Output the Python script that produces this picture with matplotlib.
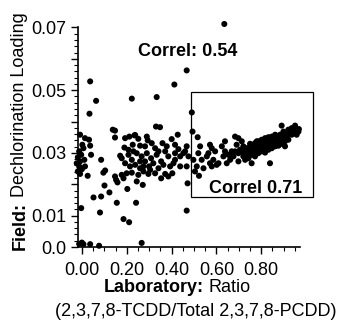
import matplotlib
matplotlib.use("Agg")
import matplotlib.pyplot as plt
from matplotlib.ticker import FixedLocator, FixedFormatter, MultipleLocator
from matplotlib.patches import Rectangle

plt.rcParams['font.family'] = ['Liberation Sans', 'DejaVu Sans']

# Laboratory ratio (x) vs field dechlorination loading (y)
lab_ratio = [
    # near zero cluster
    -0.009, 0.013, 0.031, 0.001, 0.006, -0.013, -0.004, -0.019, -0.009, -0.024,
    -0.013, -0.001, -0.019, -0.009, 0.025, 0.040, 0.036, 0.010, 0.013, -0.004,
    # isolated points, left half
    0.036, 0.0625, 0.033, 0.222, 0.333, 0.412, 0.137, 0.147, 0.330, 0.348,
    0.427, 0.237, 0.085, 0.103, 0.095, 0.100, 0.051, 0.085, 0.122, 0.080,
    0.155, 0.185, 0.210, 0.202, 0.241, 0.271, 0.152, 0.158,
    -0.001, -0.013, 0.006, 0.036, 0.076, 0.266,
    # central cluster
    0.147, 0.192, 0.211, 0.234, 0.251, 0.289, 0.293, 0.189, 0.226, 0.259,
    0.281, 0.311, 0.326, 0.359, 0.371, 0.400, 0.415, 0.430, 0.170, 0.177,
    0.207, 0.222, 0.244, 0.266, 0.289, 0.308, 0.333, 0.353, 0.385, 0.408,
    0.452, 0.192, 0.214, 0.237, 0.259, 0.281, 0.299, 0.318, 0.341, 0.363,
    0.393, 0.415, 0.199, 0.222, 0.251, 0.274, 0.296, 0.326, 0.353, 0.371,
    0.385, 0.403, 0.147, 0.177, 0.244, 0.185, 0.304, 0.274, 0.259, 0.229,
    0.207, 0.341, 0.378, 0.415, 0.438, 0.438,
    # right half
    0.635, 0.467, 0.490, 0.493, 0.516, 0.467, 0.460, 0.475, 0.467, 0.471,
    0.467, 0.497, 0.527, 0.519, 0.534, 0.512, 0.542, 0.522, 0.504, 0.571,
    0.579, 0.564, 0.594, 0.557, 0.586, 0.609, 0.571, 0.601, 0.579, 0.638,
    0.624, 0.638, 0.653, 0.631, 0.668, 0.661, 0.646, 0.676, 0.683, 0.698,
    0.713, 0.690, 0.720, 0.705, 0.728, 0.743, 0.757, 0.772, 0.787, 0.802,
    0.817, 0.832, 0.847, 0.862, 0.891, 0.936, 0.951, 0.966, 0.936, 0.914,
    0.906, 0.839, 0.757, 0.728, 0.698,
    # dense band
    0.735, 0.746, 0.754, 0.765, 0.772, 0.780, 0.790, 0.799, 0.805, 0.814,
    0.824, 0.832, 0.839, 0.850, 0.859, 0.865, 0.874, 0.884, 0.891, 0.899,
    0.906, 0.914, 0.921, 0.929, 0.943, 0.958, 0.951, 0.968, 0.757, 0.772,
    0.787, 0.802, 0.817, 0.832, 0.847, 0.862, 0.877, 0.891, 0.906, 0.921,
    0.735, 0.750, 0.765, 0.780, 0.794, 0.809, 0.824, 0.839, 0.854, 0.869,
    0.884, 0.899, 0.921, 0.713, 0.720, 0.743, 0.698, 0.683, 0.668,
]

field_loading = [
    0.0358, 0.0347, 0.0342, 0.0326, 0.0315, 0.0305, 0.0294, 0.0286, 0.0273, 0.0267,
    0.0257, 0.0248, 0.0241, 0.0233, 0.0227, 0.0294, 0.0323, 0.0278, 0.0257, 0.0124,
    0.0528, 0.0466, 0.0425, 0.0473, 0.0478, 0.0518, 0.0374, 0.0371, 0.0384, 0.0382,
    0.0358, 0.0357, 0.0278, 0.0244, 0.0237, 0.0196, 0.0158, 0.0161, 0.0174, 0.0110,
    0.0141, 0.0089, 0.0079, 0.0185, 0.0141, 0.0198, 0.0214, 0.0206,
    0.0014, 0.0010, 0.0009, 0.0009, 0.0004, 0.0013,
    0.0349, 0.0347, 0.0352, 0.0356, 0.0345, 0.0352, 0.0340, 0.0317, 0.0326, 0.0323,
    0.0321, 0.0331, 0.0315, 0.0331, 0.0305, 0.0344, 0.0326, 0.0312, 0.0291, 0.0283,
    0.0294, 0.0278, 0.0299, 0.0289, 0.0299, 0.0283, 0.0294, 0.0273, 0.0289, 0.0267,
    0.0299, 0.0267, 0.0257, 0.0262, 0.0251, 0.0273, 0.0257, 0.0267, 0.0251, 0.0262,
    0.0257, 0.0278, 0.0235, 0.0237, 0.0230, 0.0241, 0.0233, 0.0235, 0.0219, 0.0233,
    0.0225, 0.0235, 0.0225, 0.0230, 0.0209, 0.0219, 0.0246, 0.0257, 0.0273, 0.0305,
    0.0310, 0.0305, 0.0321, 0.0299, 0.0289, 0.0257,
    0.0711, 0.0563, 0.0429, 0.0368, 0.0350, 0.0321, 0.0305, 0.0289, 0.0257, 0.0203,
    0.0116, 0.0278, 0.0321, 0.0299, 0.0278, 0.0257, 0.0251, 0.0227, 0.0241, 0.0326,
    0.0315, 0.0299, 0.0305, 0.0289, 0.0278, 0.0267, 0.0267, 0.0262, 0.0257, 0.0337,
    0.0321, 0.0305, 0.0294, 0.0289, 0.0305, 0.0278, 0.0267, 0.0289, 0.0352, 0.0347,
    0.0337, 0.0326, 0.0321, 0.0310, 0.0305, 0.0315, 0.0323, 0.0331, 0.0337, 0.0342,
    0.0347, 0.0350, 0.0352, 0.0358, 0.0387, 0.0379, 0.0374, 0.0368, 0.0358, 0.0347,
    0.0321, 0.0267, 0.0267, 0.0278, 0.0273,
    0.0294, 0.0301, 0.0310, 0.0299, 0.0312, 0.0305, 0.0321, 0.0310, 0.0326, 0.0315,
    0.0331, 0.0321, 0.0337, 0.0326, 0.0342, 0.0331, 0.0347, 0.0337, 0.0352, 0.0342,
    0.0358, 0.0363, 0.0358, 0.0368, 0.0363, 0.0358, 0.0387, 0.0376, 0.0294, 0.0289,
    0.0299, 0.0305, 0.0301, 0.0310, 0.0315, 0.0321, 0.0323, 0.0329, 0.0337, 0.0342,
    0.0315, 0.0329, 0.0323, 0.0337, 0.0329, 0.0340, 0.0342, 0.0331, 0.0347, 0.0352,
    0.0358, 0.0368, 0.0374, 0.0305, 0.0289, 0.0283, 0.0299, 0.0305, 0.0289,
]

x_ticks = [0.0, 0.2, 0.4, 0.6, 0.8]
x_tick_labels = ['0.00', '0.20', '0.40', '0.60', '0.80']
y_ticks = [0.0, 0.01, 0.02, 0.03, 0.04, 0.05, 0.06, 0.07]
y_tick_labels = ['0.0', '0.01', '', '0.03', '', '0.05', '', '0.07']

corr_all = "Correl: 0.54"
corr_sub = "Correl 0.71"
box_x = [0.487, 1.031]
box_y = [0.016, 0.0495]

W, H = 339, 323
fig = plt.figure(figsize=(W / 100, H / 100), dpi=100)
ax = fig.add_axes([77.5 / W, 1 - 247 / H, (300 - 77.5) / W, (247 - 26.5) / H])

ax.scatter(lab_ratio, field_loading, s=19, c='black', edgecolors='none',
           clip_on=False, zorder=3)

ax.set_xlim(-0.0205, 0.973)
ax.set_ylim(0.0, 0.0703)

for side in ['top', 'right']:
    ax.spines[side].set_visible(False)
for side in ['left', 'bottom']:
    ax.spines[side].set_linewidth(1.2)

ax.xaxis.set_major_locator(FixedLocator(x_ticks))
ax.xaxis.set_major_formatter(FixedFormatter(x_tick_labels))
ax.xaxis.set_minor_locator(MultipleLocator(0.05))
ax.yaxis.set_major_locator(FixedLocator(y_ticks))
ax.yaxis.set_major_formatter(FixedFormatter(y_tick_labels))
ax.yaxis.set_minor_locator(MultipleLocator(0.002))

ax.tick_params(which='major', direction='out', length=5, width=1.0,
               labelsize=13, colors='black')
ax.tick_params(which='minor', direction='out', length=3, width=0.8)
ax.tick_params(axis='x', which='major', pad=6)
ax.tick_params(axis='y', which='major', pad=3)

ax.text(0.471, 0.0623, corr_all, ha='center', va='center', fontsize=13,
        fontweight='bold')
ax.text(0.777, 0.0188, corr_sub, ha='center', va='center', fontsize=13,
        fontweight='bold')
ax.add_patch(Rectangle((box_x[0], box_y[0]), box_x[1] - box_x[0], box_y[1] - box_y[0],
                       fill=False, edgecolor='black', linewidth=0.9, clip_on=False))

# axis labels with bold prefix
fig.canvas.draw()
r = fig.canvas.get_renderer()

# x label line 1
t1 = fig.text(0, 1 - 287 / H, "Laboratory:", fontsize=13, fontweight='bold',
              ha='left', va='center')
t2 = fig.text(0, 1 - 287 / H, "Ratio", fontsize=13, ha='left', va='center')
w1 = t1.get_window_extent(r).width
w2 = t2.get_window_extent(r).width
gap = 5
total = w1 + gap + w2
x0 = 177 - total / 2
t1.set_x(x0 / W)
t2.set_x((x0 + w1 + gap) / W)

fig.text(196 / W, 1 - 312 / H, "(2,3,7,8-TCDD/Total 2,3,7,8-PCDD)", fontsize=13,
         ha='center', va='center')

# y label
y1 = fig.text(20 / W, 0, "Field:", fontsize=13, fontweight='bold', rotation=90,
              ha='center', va='bottom')
y2 = fig.text(20 / W, 0, "Dechlorination Loading", fontsize=13, rotation=90,
              ha='center', va='bottom')
h1 = y1.get_window_extent(r).height
h2 = y2.get_window_extent(r).height
ybot = H - 250
y1.set_y(ybot / H)
y2.set_y((ybot + h1 + gap) / H)

fig.savefig("out.png", dpi=100)
